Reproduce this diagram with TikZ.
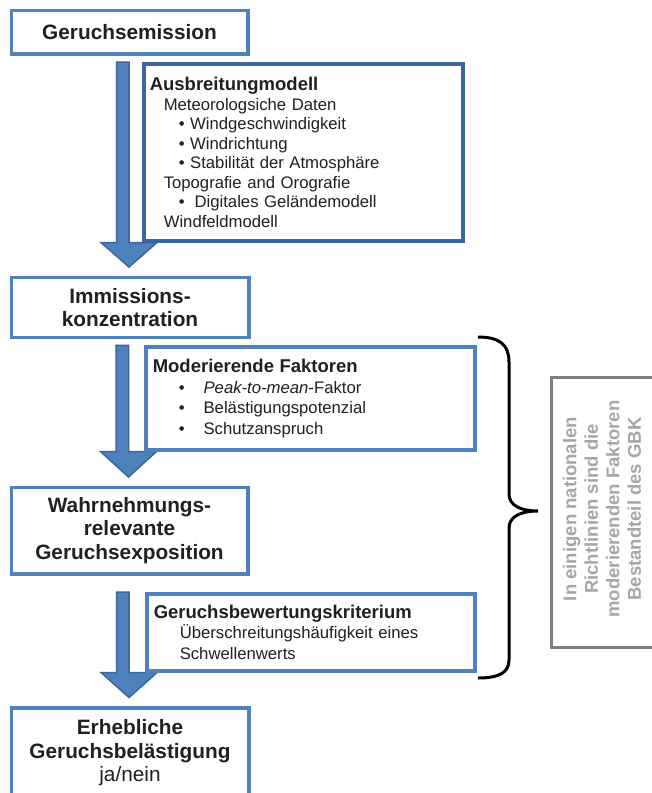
\documentclass[tikz,border=0pt]{standalone}
\usepackage{fontspec}
\setmainfont{Liberation Sans}
\usetikzlibrary{calc, backgrounds}

\definecolor{boxblue}{HTML}{4F81BD}
\definecolor{darkblue}{HTML}{3A6799}
\definecolor{textdark}{HTML}{231F20}
\definecolor{notegray}{HTML}{7F7F7F}
\definecolor{notetext}{HTML}{A6A6A6}

\newcommand{\flowarrow}[2]{%
  \filldraw[flow] let \p1=(#1.north), \p2=(#1.south), \p3=(#2.north) in
    (\x3-13.5pt,\y1) -- (\x3-1pt,\y1) -- (\x3-1pt,\y2) -- (\x3+27pt,\y2)
    -- (\x3-1pt,\y3+8.5pt) -- (\x3-29pt,\y2) -- (\x3-13.5pt,\y2) -- cycle;}

\begin{document}
\begin{tikzpicture}[x=1pt, y=-1pt,
  mainbox/.style={draw=boxblue, line width=3.5pt, fill=white, text=textdark, align=center,
    anchor=north west, inner sep=0pt, font=\fontsize{20.8}{23.3}\selectfont\bfseries},
  infobox/.style={draw=boxblue, line width=3.5pt, fill=white, text=textdark, align=left,
    anchor=north west, inner ysep=0pt, font=\fontsize{16.7}{20.5}\selectfont},
  flow/.style={fill=boxblue, draw=darkblue, line width=1.5pt},
  brace/.style={draw=black, line width=3pt},
  notebox/.style={draw=notegray, line width=3pt}]
\useasboundingbox (0,0) rectangle (652,793);

\node (emi) [mainbox, minimum width=236.5, minimum height=43.3] at (9.5,8.7) {Geruchsemission};
\node (imm) [mainbox, minimum width=237.5, minimum height=60] at (9.5,275.5) {Immissions-\\konzentration};
\node (wahr) [mainbox, minimum width=236.5, minimum height=86.5] at (9.5,485.5) {Wahrnehmungs-\\relevante\\Geruchsexposition};
\node (erh) [mainbox, minimum width=237.5, minimum height=90] at (9.5,706) {Erhebliche\\Geruchsbelästigung\\{\mdseries ja/nein}};

\node (ausb) [infobox, draw=darkblue, minimum width=319, minimum height=177, text width=307, inner xsep=6,
  font=\fontsize{16.7}{19.5}\selectfont] at (142,62)
  {{\bfseries\fontsize{18.5}{19.5}\selectfont Ausbreitungmodell}\\
   \hspace*{14pt}Meteorologsiche Daten\\
   \hspace*{29pt}• Windgeschwindigkeit\\
   \hspace*{29pt}• Windrichtung\\
   \hspace*{29pt}• Stabilität der Atmosphäre\\
   \hspace*{14pt}Topografie and Orografie\\
   \hspace*{29pt}•\hspace{10pt}Digitales Geländemodell\\
   \hspace*{14pt}Windfeldmodell};
\node (mod) [infobox, minimum width=329, minimum height=102.7, text width=315, inner xsep=7] at (144,345.3)
  {{\bfseries\fontsize{18.5}{20.5}\selectfont Moderierende Faktoren}\\
   \hspace*{26pt}•\hspace{19pt}\textit{Peak-to-mean}-Faktor\\
   \hspace*{26pt}•\hspace{19pt}Belästigungspotenzial\\
   \hspace*{26pt}•\hspace{19pt}Schutzanspruch};
\node (gbk) [infobox, minimum width=328, minimum height=77, text width=314, inner xsep=7] at (145,592)
  {{\bfseries\fontsize{18.5}{20.5}\selectfont Geruchsbewertungskriterium}\\
   \hspace*{26pt}Überschreitungshäufigkeit eines\\
   \hspace*{26pt}Schwellenwerts};

\begin{scope}[on background layer]
\flowarrow{ausb}{imm}
\flowarrow{mod}{wahr}
\flowarrow{gbk}{erh}
\end{scope}

\draw[brace] (478,337) .. controls (500,337) and (509,345) .. (509,362) -- (509,494)
  .. controls (509,505) and (520,511) .. (538,511)
  .. controls (520,511) and (509,517) .. (509,528) -- (509,660)
  .. controls (509,672) and (500,678) .. (478,678);

\draw[notebox] (551.5,377) rectangle (670,647);
\node (note) [rotate=90, align=center, text=notetext, font=\fontsize{18.5}{21.5}\selectfont\bfseries]
  at (602,509) {In einigen nationalen\\Richtlinien sind die\\moderierenden Faktoren\\Bestandteil des GBK};
\end{tikzpicture}
\end{document}
